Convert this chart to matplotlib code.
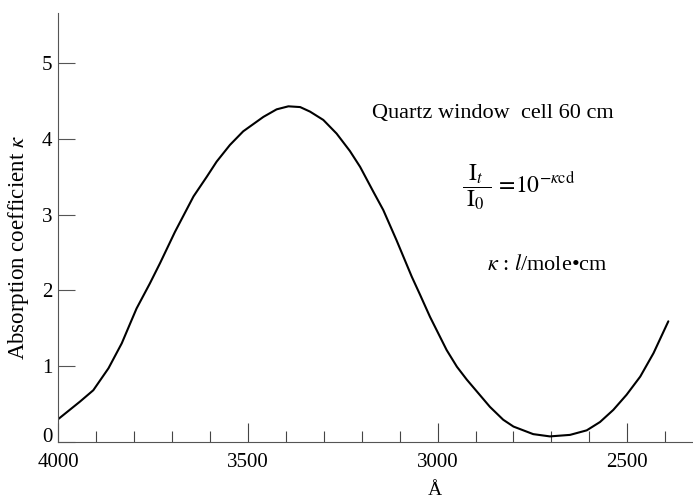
import matplotlib
matplotlib.use("Agg")
import matplotlib.pyplot as plt
from matplotlib.ticker import MultipleLocator
from matplotlib.transforms import ScaledTranslation

plt.rcParams['font.family'] = ['Liberation Serif', 'DejaVu Serif']
plt.rcParams['mathtext.fontset'] = 'stix'

# Data (wavelength in Å, absorption coefficient κ)
wavelength = [3999, 3942, 3907, 3867, 3832, 3810, 3793, 3758, 3731, 3692,
              3643, 3608, 3582, 3547, 3512, 3459, 3424, 3393, 3362, 3336,
              3301, 3266, 3231, 3204, 3169, 3143, 3108, 3068, 3046, 3020,
              2976, 2949, 2923, 2862, 2827, 2800, 2748, 2704, 2651, 2607,
              2572, 2537, 2502, 2466, 2431, 2392]
kappa = [0.30, 0.53, 0.68, 0.97, 1.30, 1.56, 1.76, 2.09, 2.36, 2.77,
         3.24, 3.50, 3.70, 3.92, 4.10, 4.29, 4.39, 4.43, 4.42, 4.36,
         4.25, 4.07, 3.84, 3.63, 3.30, 3.06, 2.66, 2.18, 1.94, 1.65,
         1.21, 0.99, 0.82, 0.46, 0.29, 0.20, 0.10, 0.07, 0.09, 0.15,
         0.26, 0.42, 0.62, 0.86, 1.17, 1.59]

x_ticks = [4000, 3500, 3000, 2500]
x_ticklabels = ['4000', '3500', '3000', '2500']
y_ticks = [0, 1, 2, 3, 4, 5]
y_ticklabels = ['0', '1', '2', '3', '4', '5']

fig = plt.figure(figsize=(6.93, 5.0), dpi=100)
ax = fig.add_axes([0.0837, 0.1166, 0.9163, 0.857])

ax.plot(wavelength, kappa, color='black', lw=1.5, solid_capstyle='round',
        solid_joinstyle='round')

ax.set_xlim(4000, 2327)
ax.set_ylim(0, 5.66)

for s in ['top', 'right']:
    ax.spines[s].set_visible(False)
for s in ['left', 'bottom']:
    ax.spines[s].set_color('#555555')
    ax.spines[s].set_linewidth(0.8)

ax.set_xticks(x_ticks)
ax.set_xticklabels(x_ticklabels)
ax.xaxis.set_minor_locator(MultipleLocator(100))
ax.set_yticks(y_ticks)
ax.set_yticklabels(y_ticklabels)

ax.tick_params(axis='x', which='major', direction='in', length=14, width=0.8,
               color='#444444', labelsize=15, pad=8)
ax.tick_params(axis='x', which='minor', direction='in', length=8, width=0.8,
               color='#444444')
ax.tick_params(axis='y', which='major', direction='in', length=12, width=0.8,
               color='#555555', labelsize=15, pad=4)

# raise the "0" label slightly, as in the reference
zero_lbl = ax.get_yticklabels()[0]
zero_lbl.set_transform(zero_lbl.get_transform() +
                       ScaledTranslation(0, 5 / 72, fig.dpi_scale_trans))

ax.set_ylabel(r'Absorption coefficient $\kappa$', fontsize=16.5)
ax.yaxis.set_label_coords(-0.042, 0.454)
ax.set_xlabel('Å', fontsize=14)
ax.xaxis.set_label_coords(0.594, -0.093)

ax.text(0.494, 0.766, 'Quartz window  cell 60 cm', transform=ax.transAxes,
        fontsize=16, ha='left', va='center')
ax.text(0.637, 0.594,
        r'$\dfrac{\;\mathrm{I}_t\;}{\;\mathrm{I}_0\;}\,=\!10^{-\kappa\mathrm{cd}}$',
        transform=ax.transAxes, fontsize=17, ha='left', va='center')
ax.text(0.676, 0.413, r'$\kappa$ : $l$/mole•cm', transform=ax.transAxes,
        fontsize=16, ha='left', va='center')

fig.savefig('out.png', dpi=100)
